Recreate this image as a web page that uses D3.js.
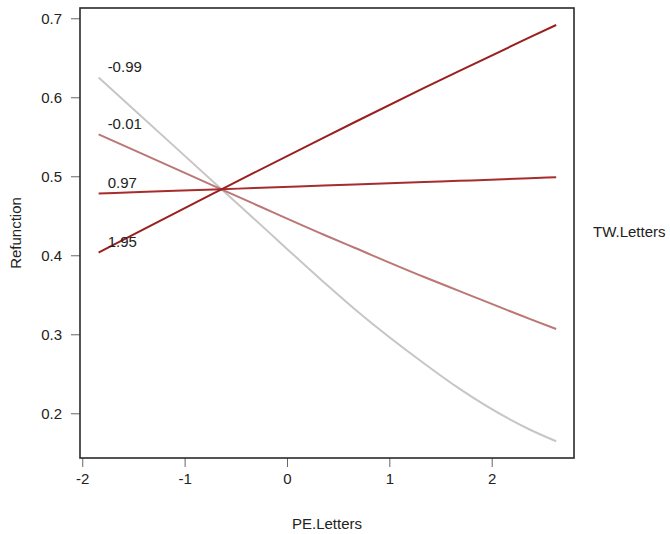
<!DOCTYPE html>
<html>
<head>
<meta charset="utf-8">
<script src="https://cdn.jsdelivr.net/npm/d3@7"></script>
<style>
  body { margin: 0; background: #fff; }
  text { font-family: "Liberation Sans", Arial, sans-serif; fill: #222; }
</style>
</head>
<body>
<script>
// input data
var peLetters = [-1.84, -1.44, -0.64, -0.32, 0.36, 0.66, 1.34, 1.68, 2.37, 2.63]

var twLevels = ['-0.99', '-0.01', '0.97', '1.95']

const tw099neg = [0.625, 0.578, 0.4835, 0.446, 0.366, 0.332, 0.263, 0.2315, 0.1795, 0.1646]
const tw001neg = [0.553, 0.530, 0.4835, 0.465, 0.426, 0.4095, 0.3725, 0.355, 0.3195, 0.3067]
const tw097 = [0.4781, 0.4800, 0.4836, 0.4851, 0.4882, 0.4896, 0.4927, 0.4942, 0.4974, 0.4988]
const tw195 = [0.4034, 0.4304, 0.4835, 0.5046, 0.5490, 0.5684, 0.6118, 0.6332, 0.6757, 0.6915]

var xTicks = [-2, -1, 0, 1, 2]
var yTicks = [0.2, 0.3, 0.4, 0.5, 0.6, 0.7]

var cores = ['#c9c5c5', '#bb7676', '#a82c2c', '#9a1f1f']

// join x values with each series
var series = [tw099neg, tw001neg, tw097, tw195].map(function (vals, i) {
  return {
    nome: twLevels[i],
    cor: cores[i],
    pontos: vals.map(function (v, j) { return {x: peLetters[j], y: v} })
  }
})

// dimensions
const margem = {topo: 8, direita: 96, base: 76, esquerda: 80}
const largura = 670 - margem.esquerda - margem.direita
const altura = 534 - margem.topo - margem.base

var svg = d3.select('body')
            .append('svg')
              .attr('width', 670)
              .attr('height', 534)

var grupo = svg.append('g')
               .attr('transform', 'translate(' + margem.esquerda + ',' + margem.topo + ')')

// scales
var xEscala = d3.scaleLinear()
                .domain([-2.022, 2.804])
                .range([0, largura])

var yEscala = d3.scaleLinear()
                .domain([0.1434, 0.713])
                .range([altura, 0])

var geradorLinha = d3.line()
                     .x(function (d) { return xEscala(d.x) })
                     .y(function (d) { return yEscala(d.y) })
                     .curve(d3.curveMonotoneX)

// lines
grupo.selectAll('path.serie')
     .data(series)
     .enter()
     .append('path')
       .attr('class', 'serie')
       .attr('d', function (d) { return geradorLinha(d.pontos) })
       .attr('fill', 'none')
       .attr('stroke', function (d) { return d.cor })
       .attr('stroke-width', 2)

// labels at the start of each line
grupo.selectAll('text.rotulo')
     .data(series)
     .enter()
     .append('text')
       .attr('class', 'rotulo')
       .attr('x', function (d) { return xEscala(d.pontos[0].x) + 9 })
       .attr('y', function (d) { return yEscala(d.pontos[0].y) - 5.5 })
       .attr('font-size', '15px')
       .text(function (d) { return d.nome })

// axes (plain hyphen for negatives, like the original)
var eixoBase = d3.axisBottom(xEscala)
                 .tickValues(xTicks)
                 .tickFormat(function (d) { return String(d) })
                 .tickSize(9)
                 .tickPadding(6)

var eixoEsquerda = d3.axisLeft(yEscala)
                     .tickValues(yTicks)
                     .tickFormat(function (d) { return d.toFixed(1) })
                     .tickSize(9)
                     .tickPadding(9)

var grupoEixoBase = grupo.append('g')
                         .attr('transform', 'translate(0,' + altura + ')')
                         .call(eixoBase)

var grupoEixoEsquerda = grupo.append('g')
                             .call(eixoEsquerda)

;[grupoEixoBase, grupoEixoEsquerda].forEach(function (g) {
  g.select('.domain').remove()
  g.selectAll('line').attr('stroke', '#666')
  g.selectAll('text')
   .attr('font-size', '15px')
   .attr('font-family', '"Liberation Sans", Arial, sans-serif')
   .attr('fill', '#222')
})

// box
grupo.append('rect')
     .attr('x', 0)
     .attr('y', 0)
     .attr('width', largura)
     .attr('height', altura)
     .attr('fill', 'none')
     .attr('stroke', '#2a2a2a')
     .attr('stroke-width', 1.6)

// axis titles
svg.append('text')
   .attr('x', margem.esquerda + largura / 2)
   .attr('y', 529)
   .attr('text-anchor', 'middle')
   .attr('font-size', '15px')
   .text('PE.Letters')

svg.append('text')
   .attr('transform', 'translate(21,' + (margem.topo + altura / 2) + ') rotate(-90)')
   .attr('text-anchor', 'middle')
   .attr('font-size', '15px')
   .text('Refunction')

svg.append('text')
   .attr('x', 593)
   .attr('y', 237)
   .attr('font-size', '15px')
   .text('TW.Letters')
</script>
</body>
</html>
